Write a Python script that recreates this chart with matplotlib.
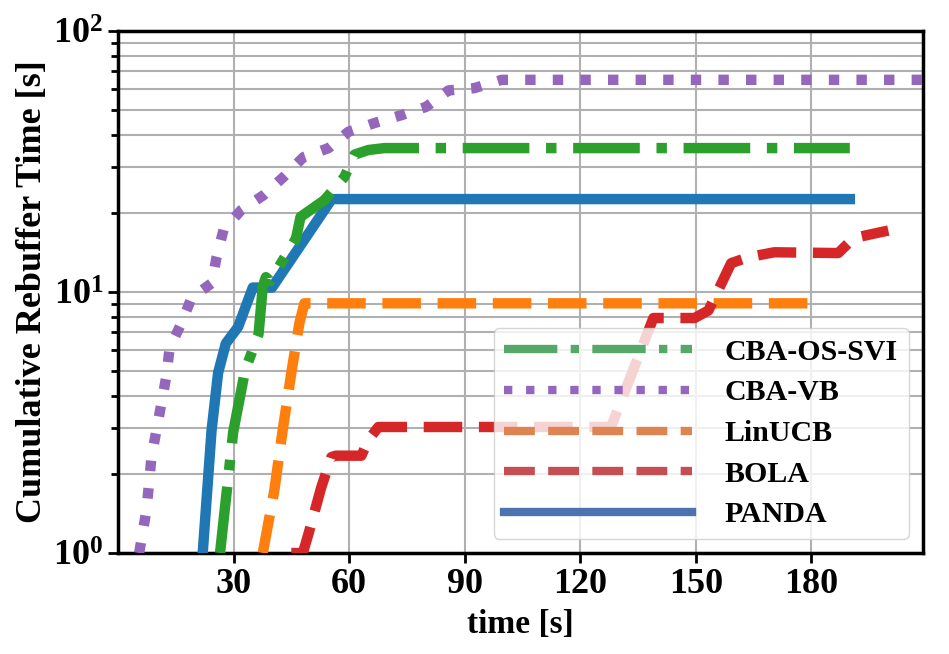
import matplotlib
matplotlib.use("Agg")
import matplotlib.pyplot as plt
from matplotlib.lines import Line2D

plt.rcParams['font.family'] = ['Liberation Serif', 'DejaVu Serif']
plt.rcParams['font.weight'] = 'bold'
plt.rcParams['mathtext.fontset'] = 'custom'
plt.rcParams['mathtext.rm'] = 'Liberation Serif:bold'
plt.rcParams['mathtext.it'] = 'Liberation Serif:bold'
plt.rcParams['mathtext.bf'] = 'Liberation Serif:bold'

# 🔹 curves (time [s], cumulative rebuffer [s])
panda_t = [22, 24.3, 26, 28, 31.2, 35, 40, 55.5, 190]
panda_y = [1, 2.95, 4.9, 6.35, 7.35, 10.4, 10.4, 22.7, 22.7]

svi_t = [26.5, 29.9, 33, 36.5, 37.6, 38.4, 39.5, 46.2, 47.4, 53.6, 58.8, 61.4, 65, 69.2, 190]
svi_y = [1, 2.9, 5.0, 6.9, 10.5, 11.4, 11.0, 16.0, 19.4, 22.5, 27.6, 33.6, 35.0, 35.6, 35.6]

vb_t = [5.5, 7.4, 8.7, 10, 11.3, 12.6, 13.4, 16.5, 19.1, 24.3, 25.6, 27.4, 32, 37.8,
        43, 48.2, 54.7, 59.8, 66.6, 73.6, 80, 85.8, 92.5, 99.6, 215]
vb_y = [1, 1.46, 2.33, 2.96, 3.76, 4.8, 6.1, 7.6, 9.5, 10.8, 13.6, 17.3, 20.6, 23.5,
        27.6, 32.9, 35.6, 41.1, 44.4, 47.6, 51.2, 59.2, 60.4, 65, 65]

lin_t = [37.6, 40.6, 42.5, 45, 47.1, 48.4, 51, 180.8]
lin_y = [1, 1.74, 2.78, 4.9, 7.6, 9.05, 9.05, 9.05]

bola_t = [45, 48, 49.5, 52.8, 55.4, 56.5, 63.2, 65, 67.6, 128, 139, 149.7, 153.3,
          156.7, 159.2, 163.7, 170.4, 187, 191, 200]
bola_y = [1, 1, 1.19, 1.79, 2.33, 2.36, 2.36, 2.71, 3.04, 3.04, 7.95, 7.95, 8.5,
          10.8, 12.9, 13.6, 14.2, 14.1, 16.1, 17.2]

legend_labels = ['CBA-OS-SVI', 'CBA-VB', 'LinUCB', 'BOLA', 'PANDA']
xticks = [30, 60, 90, 120, 150, 180]

fig = plt.figure(figsize=(9.49, 6.54), dpi=100)
ax = fig.add_axes([0.1243, 0.1544, 0.8483, 0.7982])

lw = 7.5
ax.plot(panda_t, panda_y, color='#1f77b4', lw=lw, ls='-', zorder=3)
ax.plot(svi_t, svi_y, color='#2ca02c', lw=lw, ls='-.', zorder=3)
ax.plot(vb_t, vb_y, color='#9467bd', lw=lw, ls=':', zorder=3)
ax.plot(lin_t, lin_y, color='#ff7f0e', lw=lw, ls='--', zorder=3)
ax.plot(bola_t, bola_y, color='#d62728', lw=lw, ls='--', zorder=3)

ax.set_yscale('log')
ax.set_ylim(1, 100)
ax.set_xlim(0, 209)
ax.set_xticks(xticks)

ax.grid(True, which='major', color='#b0b0b0', lw=1.5)
ax.grid(True, which='minor', axis='y', color='#b0b0b0', lw=1.5)

for s in ax.spines.values():
    s.set_linewidth(2.5)
ax.tick_params(axis='both', which='major', labelsize=26, width=2, length=7)
ax.tick_params(axis='y', which='minor', width=2, length=5)

ax.set_xlabel('time [s]', fontsize=24, fontweight='bold', labelpad=6)
ax.set_ylabel('Cumulative Rebuffer Time [s]', fontsize=26, fontweight='bold', labelpad=3)

# legend uses the muted colours of the original
handles = [
    Line2D([], [], color='#55a868', lw=6, ls='-.'),
    Line2D([], [], color='#9467bd', lw=6, ls=':'),
    Line2D([], [], color='#dd8452', lw=6, ls='--'),
    Line2D([], [], color='#c44e52', lw=6, ls='--'),
    Line2D([], [], color='#4c72b0', lw=6, ls='-'),
]
ax.legend(handles, legend_labels, loc='lower right', handlelength=6.3,
          handletextpad=1.1, labelspacing=0.46, borderpad=0.35, borderaxespad=0,
          bbox_to_anchor=(0.982, 0.027), prop={'weight': 'bold', 'size': 21.5})

fig.savefig('out.png', dpi=100)
